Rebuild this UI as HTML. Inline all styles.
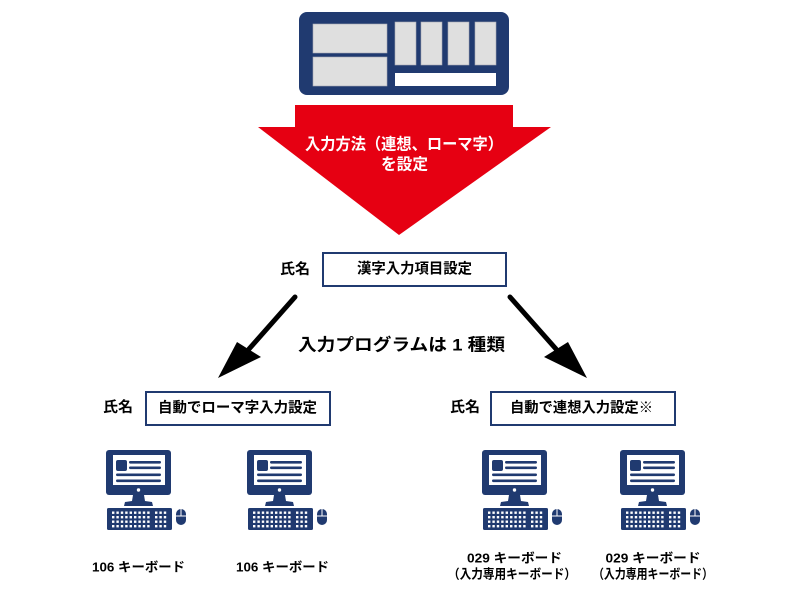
<!DOCTYPE html>
<html>
<head>
<meta charset="utf-8">
<style>
  html, body { margin: 0; padding: 0; background: #ffffff; }
  body { width: 800px; height: 597px; overflow: hidden; }
  svg { display: block; }
  text { font-family: "Liberation Sans", "Noto Sans CJK JP", sans-serif; font-weight: bold; }
</style>
</head>
<body>
<svg width="800" height="597" viewBox="0 0 800 597" xmlns="http://www.w3.org/2000/svg">
  <defs>
    <g id="pc">
      <!-- monitor -->
      <rect x="0" y="0" width="65" height="45" rx="3" fill="#203a70"/>
      <rect x="7" y="5" width="52" height="30" fill="#ffffff"/>
      <rect x="10" y="10" width="11" height="11" rx="2" fill="#203a70"/>
      <rect x="23" y="11" width="32" height="2.6" rx="1.2" fill="#203a70"/>
      <rect x="23" y="16.5" width="32" height="2.6" rx="1.2" fill="#203a70"/>
      <rect x="10" y="23.5" width="45" height="2.6" rx="1.2" fill="#203a70"/>
      <rect x="10" y="29.5" width="45" height="2.6" rx="1.2" fill="#203a70"/>
      <circle cx="32.5" cy="40" r="1.7" fill="#ffffff"/>
      <!-- stand -->
      <polygon points="27,45 38,45 39,51 46,52 47,56 18,56 19,52 26,51" fill="#203a70"/>
      <!-- keyboard -->
      <rect x="1" y="58" width="65" height="22" rx="1.5" fill="#203a70"/>
      <g fill="#ffffff">
        <rect x="6" y="61.5" width="2.4" height="2.4"/><rect x="10.4" y="61.5" width="2.4" height="2.4"/><rect x="14.8" y="61.5" width="2.4" height="2.4"/><rect x="19.2" y="61.5" width="2.4" height="2.4"/><rect x="23.6" y="61.5" width="2.4" height="2.4"/><rect x="28" y="61.5" width="2.4" height="2.4"/><rect x="32.4" y="61.5" width="2.4" height="2.4"/><rect x="36.8" y="61.5" width="2.4" height="2.4"/><rect x="41.2" y="61.5" width="2.4" height="2.4"/>
        <rect x="6" y="66" width="2.4" height="2.4"/><rect x="10.4" y="66" width="2.4" height="2.4"/><rect x="14.8" y="66" width="2.4" height="2.4"/><rect x="19.2" y="66" width="2.4" height="2.4"/><rect x="23.6" y="66" width="2.4" height="2.4"/><rect x="28" y="66" width="2.4" height="2.4"/><rect x="32.4" y="66" width="2.4" height="2.4"/><rect x="36.8" y="66" width="2.4" height="2.4"/><rect x="41.2" y="66" width="2.4" height="2.4"/>
        <rect x="6" y="70.5" width="2.4" height="2.4"/><rect x="10.4" y="70.5" width="2.4" height="2.4"/><rect x="14.8" y="70.5" width="2.4" height="2.4"/><rect x="19.2" y="70.5" width="2.4" height="2.4"/><rect x="23.6" y="70.5" width="2.4" height="2.4"/><rect x="28" y="70.5" width="2.4" height="2.4"/><rect x="32.4" y="70.5" width="2.4" height="2.4"/><rect x="36.8" y="70.5" width="2.4" height="2.4"/><rect x="41.2" y="70.5" width="2.4" height="2.4"/>
        <rect x="6" y="75" width="2.4" height="2.4"/><rect x="10.4" y="75" width="2.4" height="2.4"/><rect x="14.8" y="75" width="2.4" height="2.4"/><rect x="19.2" y="75" width="2.4" height="2.4"/><rect x="23.6" y="75" width="2.4" height="2.4"/><rect x="28" y="75" width="2.4" height="2.4"/><rect x="32.4" y="75" width="2.4" height="2.4"/><rect x="36.8" y="75" width="2.4" height="2.4"/><rect x="41.2" y="75" width="2.4" height="2.4"/>
        <rect x="49" y="61.5" width="2.4" height="2.4"/><rect x="53.4" y="61.5" width="2.4" height="2.4"/><rect x="57.8" y="61.5" width="2.4" height="2.4"/>
        <rect x="49" y="66" width="2.4" height="2.4"/><rect x="53.4" y="66" width="2.4" height="2.4"/><rect x="57.8" y="66" width="2.4" height="2.4"/>
        <rect x="49" y="70.5" width="2.4" height="2.4"/><rect x="53.4" y="70.5" width="2.4" height="2.4"/><rect x="57.8" y="70.5" width="2.4" height="2.4"/>
        <rect x="49" y="75" width="2.4" height="2.4"/><rect x="53.4" y="75" width="2.4" height="2.4"/><rect x="57.8" y="75" width="2.4" height="2.4"/>
      </g>
      <!-- mouse -->
      <rect x="70" y="59" width="10" height="16" rx="5" fill="#203a70"/>
      <line x1="75" y1="59" x2="75" y2="66" stroke="#ffffff" stroke-width="1"/>
      <line x1="70" y1="66" x2="80" y2="66" stroke="#ffffff" stroke-width="1"/>
    </g>
  </defs>

  <!-- top keyboard-like panel -->
  <rect x="299" y="12" width="210" height="83" rx="8" fill="#203a70"/>
  <g fill="#dfdfdf" stroke="#a9a9b4" stroke-width="0.6">
    <rect x="313" y="24" width="74" height="29"/>
    <rect x="313" y="57" width="74" height="29"/>
    <rect x="395" y="22" width="21" height="43"/>
    <rect x="421" y="22" width="21" height="43"/>
    <rect x="448" y="22" width="21" height="43"/>
    <rect x="475" y="22" width="21" height="43"/>
  </g>
  <rect x="395" y="73" width="101" height="13" fill="#ffffff"/>

  <!-- red down arrow -->
  <polygon points="295,105 513,105 513,127 551,127 399,235 258,127 295,127" fill="#e60012"/>
  <text x="404" y="145" fill="#ffffff" font-size="16" text-anchor="middle" dominant-baseline="central" textLength="198" lengthAdjust="spacingAndGlyphs">入力方法（連想、ローマ字）</text>
  <text x="404.5" y="165" fill="#ffffff" font-size="16" text-anchor="middle" dominant-baseline="central" textLength="47" lengthAdjust="spacingAndGlyphs">を設定</text>

  <!-- top box -->
  <text x="295" y="270" fill="#000" font-size="14.5" text-anchor="middle" dominant-baseline="central" textLength="30" lengthAdjust="spacingAndGlyphs">氏名</text>
  <rect x="323" y="253" width="183" height="33" fill="#ffffff" stroke="#203a70" stroke-width="2"/>
  <text x="414.5" y="269.5" fill="#000" font-size="14.5" text-anchor="middle" dominant-baseline="central" textLength="115" lengthAdjust="spacingAndGlyphs">漢字入力項目設定</text>

  <!-- black arrows -->
  <line x1="295" y1="297" x2="249" y2="349" stroke="#000" stroke-width="5" stroke-linecap="round"/>
  <polygon points="218,378 237,342 261,357" fill="#000"/>
  <line x1="510" y1="297" x2="556" y2="349" stroke="#000" stroke-width="5" stroke-linecap="round"/>
  <polygon points="587,378 568,342 544,357" fill="#000"/>

  <text x="401.5" y="345" fill="#000" font-size="17" text-anchor="middle" dominant-baseline="central" textLength="207" lengthAdjust="spacingAndGlyphs">入力プログラムは 1 種類</text>

  <!-- left box -->
  <text x="118" y="408" fill="#000" font-size="14.5" text-anchor="middle" dominant-baseline="central" textLength="30" lengthAdjust="spacingAndGlyphs">氏名</text>
  <rect x="146" y="392" width="184" height="33" fill="#ffffff" stroke="#203a70" stroke-width="2"/>
  <text x="237.5" y="408.5" fill="#000" font-size="14.5" text-anchor="middle" dominant-baseline="central" textLength="159" lengthAdjust="spacingAndGlyphs">自動でローマ字入力設定</text>

  <!-- right box -->
  <text x="465" y="408" fill="#000" font-size="14.5" text-anchor="middle" dominant-baseline="central" textLength="30" lengthAdjust="spacingAndGlyphs">氏名</text>
  <rect x="491" y="392" width="184" height="33" fill="#ffffff" stroke="#203a70" stroke-width="2"/>
  <text x="581.5" y="408.5" fill="#000" font-size="14.5" text-anchor="middle" dominant-baseline="central" textLength="143" lengthAdjust="spacingAndGlyphs">自動で連想入力設定※</text>

  <!-- computers -->
  <use href="#pc" transform="translate(106,450)"/>
  <use href="#pc" transform="translate(247,450)"/>
  <use href="#pc" transform="translate(482,450)"/>
  <use href="#pc" transform="translate(620,450)"/>

  <!-- labels -->
  <text x="138.5" y="567" fill="#000" font-size="13" text-anchor="middle" dominant-baseline="central" textLength="93" lengthAdjust="spacingAndGlyphs">106 キーボード</text>
  <text x="282.5" y="567" fill="#000" font-size="13" text-anchor="middle" dominant-baseline="central" textLength="93" lengthAdjust="spacingAndGlyphs">106 キーボード</text>

  <text x="514.5" y="558" fill="#000" font-size="13" text-anchor="middle" dominant-baseline="central" textLength="95" lengthAdjust="spacingAndGlyphs">029 キーボード</text>
  <text x="512" y="574" fill="#000" font-size="13" text-anchor="middle" dominant-baseline="central" textLength="128" lengthAdjust="spacingAndGlyphs">（入力専用キーボード）</text>
  <text x="653" y="558" fill="#000" font-size="13" text-anchor="middle" dominant-baseline="central" textLength="95" lengthAdjust="spacingAndGlyphs">029 キーボード</text>
  <text x="653" y="574" fill="#000" font-size="13" text-anchor="middle" dominant-baseline="central" textLength="120" lengthAdjust="spacingAndGlyphs">（入力専用キーボード）</text>
</svg>
</body>
</html>
